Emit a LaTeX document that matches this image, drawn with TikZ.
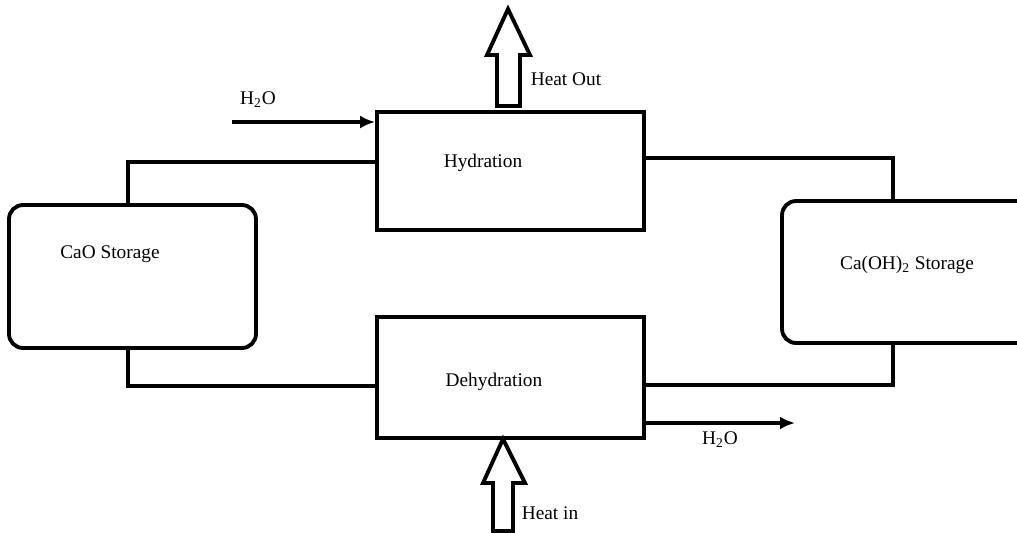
\documentclass[tikz,border=0pt]{standalone}
\usepackage{fontspec}
\setmainfont{Liberation Serif}
\usepackage{tikz}
\usetikzlibrary{arrows.meta, positioning, calc}

\begin{document}
\begin{tikzpicture}[x=0.02cm, y=-0.02cm,
    unit/.style={rectangle, draw=black, line width=2.2pt, fill=white},
    store/.style={rectangle, rounded corners=8pt, draw=black, line width=2.2pt, fill=white},
    pipe/.style={line width=2.2pt, line cap=rect},
    flow/.style={-{Latex[length=3mm, width=2.6mm]}, line width=2.2pt},
    heat/.style={line width=2.2pt, line join=miter, fill=white},
    txt/.style={font=\fontsize{11}{13}\selectfont, inner sep=0pt}
]
\useasboundingbox (0,0) rectangle (1017,532);

% storage tanks and reactors
\node[store, minimum width=4.94cm, minimum height=2.86cm] (cao)  at (132.5,276.5) {};
\node[store, minimum width=5.06cm, minimum height=2.84cm] (caoh) at (908.5,272)   {};
\node[unit,  minimum width=5.34cm, minimum height=2.36cm] (hyd)  at (510.5,171)   {};
\node[unit,  minimum width=5.34cm, minimum height=2.42cm] (dehyd) at (510.5,377.5) {};

\node[txt] (caolbl)  at (110,254) {CaO Storage};
\node[txt] (caohlbl) at (907,265) {Ca(OH)\textsubscript{2} Storage};
\node[txt] (hydlbl)  at (483,163) {Hydration};
\node[txt] (dehydlbl) at (494,382) {Dehydration};

% connecting lines
\draw[pipe] ([xshift=-0.9mm]cao.north) |- ([yshift=1.8mm]hyd.west);
\draw[pipe] ([xshift=-0.9mm]cao.south) |- ([yshift=-1.7mm]dehyd.west);
\draw[pipe] ([yshift=2.6mm]hyd.east) -| ([xshift=-3.1mm]caoh.north);
\draw[pipe] ([yshift=-1.5mm]dehyd.east) -| ([xshift=-3.1mm]caoh.south);

% water in / out
\coordinate (win)  at (232,122);
\coordinate (wout) at (795,423);
\draw[flow] (win) -- ([yshift=9.8mm]hyd.west);
\draw[flow] ([yshift=-9.1mm]dehyd.east) -- (wout);
\node[txt] (winlbl)  at (258,100) {H\textsubscript{2}O};
\node[txt] (woutlbl) at (720,440) {H\textsubscript{2}O};

% heat arrows
\draw[heat] (497,106) -- (497,55) -- (487,55) -- (508,9) -- (530,55) -- (520,55) -- (520,106) -- cycle;
\draw[heat] (493,531) -- (493,483) -- (483,483) -- (503,439) -- (525,483) -- (513,483) -- (513,531) -- cycle;
\node[txt] (hout) at (566,79)  {Heat Out};
\node[txt] (hin)  at (550,513) {Heat in};
\end{tikzpicture}
\end{document}
